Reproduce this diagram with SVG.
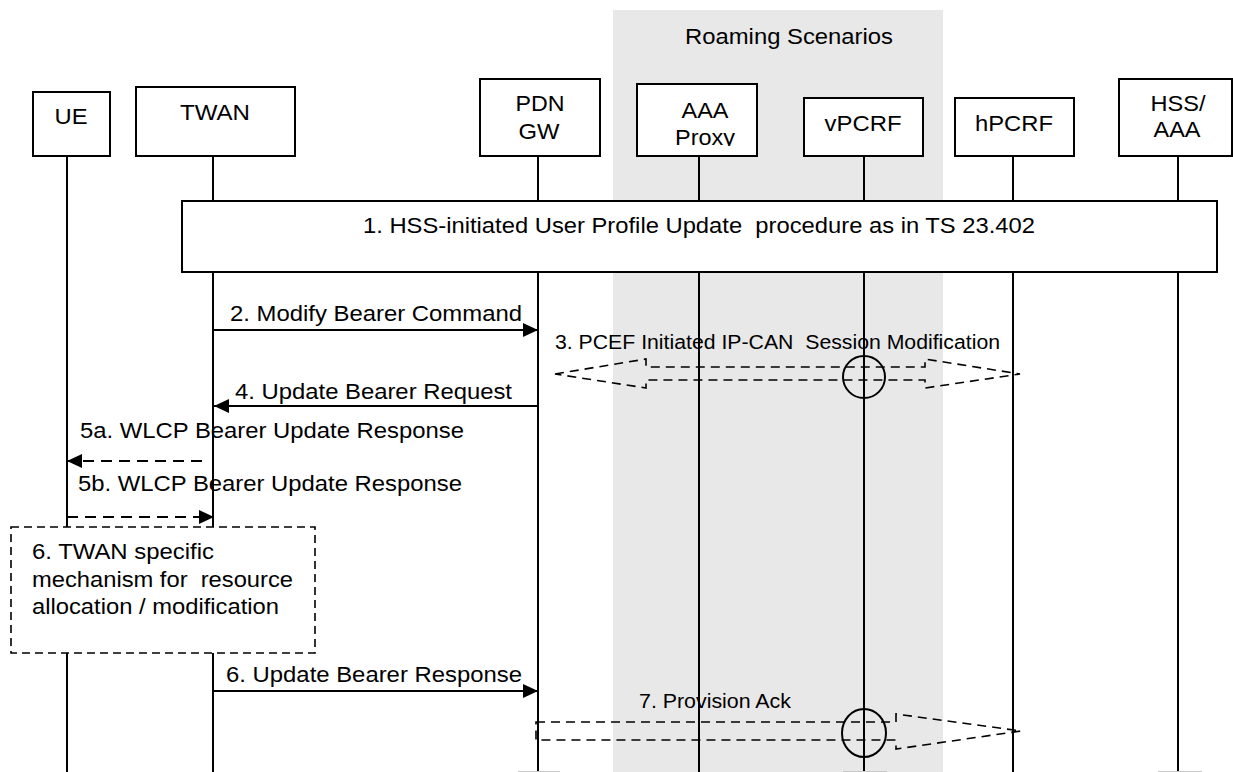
<svg xmlns="http://www.w3.org/2000/svg" width="1233" height="772" viewBox="0 0 1233 772">
<style>
text{font-family:"Liberation Sans",Arial,sans-serif;font-size:22px;fill:#000}
.sm{font-size:20px}
.box{fill:#fff;stroke:#000;stroke-width:2}
.life{stroke:#000;stroke-width:2;fill:none}
.msg{stroke:#000;stroke-width:2;fill:none}
.dmsg{stroke:#000;stroke-width:2;fill:none;stroke-dasharray:11,7}
.outline{stroke:#000;stroke-width:1.6;fill:none;stroke-dasharray:9,6}
.ring{stroke:#000;stroke-width:2;fill:none}
.mid{text-anchor:middle}
</style>
<defs>
<marker id="ah" markerWidth="15" markerHeight="14" refX="15" refY="7" orient="auto" markerUnits="userSpaceOnUse">
<path d="M0,0 L15,7 L0,14 Z" fill="#000"/>
</marker>
<clipPath id="proxyClip"><rect x="637" y="84" width="120" height="62"/></clipPath>
</defs>
<rect width="1233" height="772" fill="#fff"/>
<g id="roaming">
<rect x="613" y="10" width="330" height="762" fill="#e8e8e8"/>
<text x="789" y="44" class="mid" textLength="208" lengthAdjust="spacingAndGlyphs">Roaming Scenarios</text>
</g>
<g id="lifelines">
<line class="life" x1="67" y1="156" x2="67" y2="772"/>
<line class="life" x1="213" y1="156" x2="213" y2="772"/>
<line class="life" x1="538" y1="156" x2="538" y2="772"/>
<line class="life" x1="699" y1="156" x2="699" y2="772"/>
<line class="life" x1="864" y1="156" x2="864" y2="772"/>
<line class="life" x1="1013" y1="156" x2="1013" y2="772"/>
<line class="life" x1="1178" y1="156" x2="1178" y2="772"/>
<g stroke="#c8c8c8" stroke-width="1">
<line x1="518" y1="771.5" x2="560" y2="771.5"/>
<line x1="843" y1="771.5" x2="887" y2="771.5"/>
<line x1="1158" y1="771.5" x2="1202" y2="771.5"/>
</g>
</g>
<g id="UE"><rect class="box" x="33" y="92" width="77" height="64"/><text x="71" y="124" class="mid" textLength="33" lengthAdjust="spacingAndGlyphs">UE</text></g>
<g id="TWAN"><rect class="box" x="136" y="87" width="159" height="69"/><text x="215" y="120" class="mid" textLength="70" lengthAdjust="spacingAndGlyphs">TWAN</text></g>
<g id="PDNGW"><rect class="box" x="480" y="79" width="120" height="77"/><text x="540" y="111" class="mid" textLength="49" lengthAdjust="spacingAndGlyphs">PDN</text><text x="539" y="139" class="mid" textLength="41" lengthAdjust="spacingAndGlyphs">GW</text></g>
<g id="AAAProxy"><rect class="box" x="637" y="84" width="120" height="72"/><text x="705" y="118" class="mid" textLength="47" lengthAdjust="spacingAndGlyphs">AAA</text><text x="705" y="145" class="mid" textLength="60" lengthAdjust="spacingAndGlyphs" clip-path="url(#proxyClip)">Proxy</text></g>
<g id="vPCRF"><rect class="box" x="804" y="98" width="119" height="58"/><text x="863" y="131" class="mid" textLength="77" lengthAdjust="spacingAndGlyphs">vPCRF</text></g>
<g id="hPCRF"><rect class="box" x="955" y="98" width="119" height="58"/><text x="1014" y="131" class="mid" textLength="78" lengthAdjust="spacingAndGlyphs">hPCRF</text></g>
<g id="HSSAAA"><rect class="box" x="1119" y="79" width="113" height="77"/><text x="1178" y="111" class="mid" textLength="55" lengthAdjust="spacingAndGlyphs">HSS/</text><text x="1177" y="137" class="mid" textLength="47" lengthAdjust="spacingAndGlyphs">AAA</text></g>
<g id="step1"><rect class="box" x="182" y="201" width="1035" height="71"/><text x="699" y="233" class="mid" textLength="672" lengthAdjust="spacingAndGlyphs" xml:space="preserve">1. HSS-initiated User Profile Update  procedure as in TS 23.402</text></g>
<g id="step6box"><rect x="11" y="527" width="304" height="126" fill="#fff" stroke="#000" stroke-width="1.6" stroke-dasharray="8,5"/>
<text x="32" y="559" textLength="182" lengthAdjust="spacingAndGlyphs">6. TWAN specific</text>
<text x="32" y="587" textLength="261" lengthAdjust="spacingAndGlyphs" xml:space="preserve">mechanism for  resource</text>
<text x="32" y="614" textLength="247" lengthAdjust="spacingAndGlyphs">allocation / modification</text></g>
<g id="connectors">
<line class="msg" x1="213" y1="330" x2="538" y2="330" marker-end="url(#ah)"/>
<text x="230" y="321" textLength="292" lengthAdjust="spacingAndGlyphs">2. Modify Bearer Command</text>
<path class="outline" d="M555,374 L646,359 L646,367 L925,367 L925,359 L1020,374 L925,388 L925,380 L646,380 L646,388 Z"/>
<circle class="ring" cx="864" cy="377" r="21"/>
<text x="555" y="349" class="sm" textLength="445" lengthAdjust="spacingAndGlyphs" xml:space="preserve">3. PCEF Initiated IP-CAN  Session Modification</text>
<line class="msg" x1="538" y1="406" x2="214" y2="406" marker-end="url(#ah)"/>
<text x="235" y="399" textLength="277" lengthAdjust="spacingAndGlyphs">4. Update Bearer Request</text>
<text x="80" y="438" textLength="384" lengthAdjust="spacingAndGlyphs">5a. WLCP Bearer Update Response</text>
<line class="dmsg" x1="202" y1="461" x2="67" y2="461" marker-end="url(#ah)"/>
<text x="78" y="491" textLength="384" lengthAdjust="spacingAndGlyphs">5b. WLCP Bearer Update Response</text>
<line class="dmsg" x1="67" y1="517" x2="214" y2="517" marker-end="url(#ah)"/>
<line class="msg" x1="213" y1="691" x2="538" y2="691" marker-end="url(#ah)"/>
<text x="226" y="682" textLength="296" lengthAdjust="spacingAndGlyphs">6. Update Bearer Response</text>
<path class="outline" d="M536,722 L896,722 L896,714 L1021,731 L896,749 L896,740 L536,740 Z"/>
<ellipse class="ring" cx="864" cy="733" rx="22" ry="24"/>
<text x="639" y="708" class="sm" textLength="152" lengthAdjust="spacingAndGlyphs">7. Provision Ack</text>
</g>
</svg>
